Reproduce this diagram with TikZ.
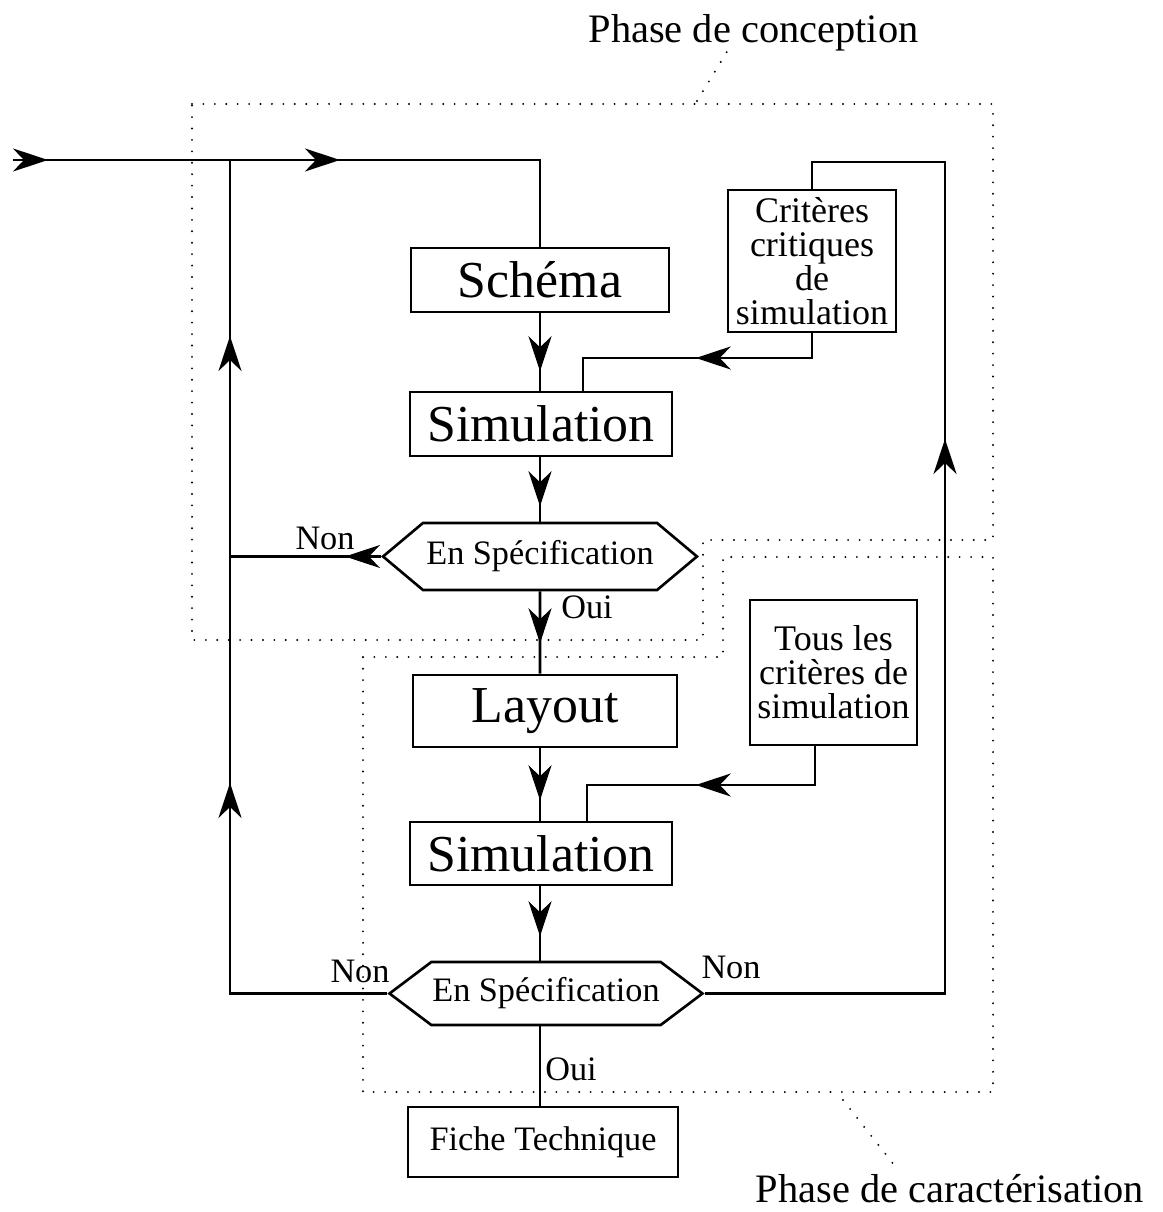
\documentclass[tikz,border=0pt]{standalone}
\usepackage{fontspec}
\setmainfont{Liberation Serif}
\usetikzlibrary{arrows.meta, shapes.symbols, decorations.markings}

\begin{document}
\begin{tikzpicture}[
  x=0.02cm, y=-0.02cm,
  line width=1.5pt,
  box/.style={rectangle, draw, inner sep=0pt,
    font=\fontsize{29.5}{33}\selectfont},
  critbox/.style={rectangle, draw, inner sep=0pt, align=center,
    font=\fontsize{20.5}{19.3}\selectfont},
  spec/.style={signal, signal to=west and east, draw, inner sep=0pt,
    font=\fontsize{19.5}{22}\selectfont},
  lbl/.style={inner sep=0pt, anchor=base, font=\fontsize{19.5}{22}\selectfont},
  phase/.style={inner sep=0pt, anchor=base, font=\fontsize{23}{26}\selectfont},
  arr/.style={postaction={decorate, decoration={markings,
    mark=at position #1 with {\arrow{Stealth[length=0.7cm, width=0.46cm, inset=0.22cm]}}}}},
  arr/.default=1.04cm,
  zone/.style={line width=1.2pt, dash pattern=on 0pt off 6.5pt, line cap=round}
]
  \useasboundingbox (0,0) rectangle (1162,1212);

  % chaine principale
  \node[box, minimum width=5.16cm, minimum height=1.28cm] (schema) at (540,280) {Schéma};
  \node[box, minimum width=5.24cm, minimum height=1.28cm] (sim1) at (541,424) {Simulation};
  \node[spec, minimum width=6.28cm, minimum height=1.34cm, signal pointer angle=80]
    (spec1) at (540,556.5) {En Spécification};
  \node[box, minimum width=5.28cm, minimum height=1.44cm] (layout) at (545,711) {Layout};
  \node[box, minimum width=5.24cm, minimum height=1.26cm] (sim2) at (541,853.5) {Simulation};
  \node[spec, minimum width=6.26cm, minimum height=1.26cm, signal pointer angle=74]
    (spec2) at (546,993.5) {En Spécification};
  \node[critbox, minimum width=5.4cm, minimum height=1.4cm,
    font=\fontsize{19.5}{22}\selectfont] (fiche) at (543,1142) {Fiche Technique};

  % criteres
  \node[critbox, minimum width=3.36cm, minimum height=2.84cm] (crit) at (812,261)
    {Critères\\critiques\\de\\simulation};
  \node[critbox, minimum width=3.34cm, minimum height=2.9cm] (tous) at (833.5,672.5)
    {Tous les\\critères de\\simulation};

  % labels
  \node[lbl] (non1) at (325,549) {Non};
  \node[lbl] (oui1) at (587,618) {Oui};
  \node[lbl] (non2) at (360,982) {Non};
  \node[lbl] (non3) at (731,978) {Non};
  \node[lbl] (oui2) at (571,1080) {Oui};
  \node[phase] (conc) at (753.5,43) {Phase de conception};
  \node[phase] (carac) at (950,1202) {Phase de caractérisation};

  % connexions
  \coordinate (in) at (13,160);
  \coordinate (split) at (230,160);
  \coordinate (c1) at (583,358);
  \coordinate (c2) at (587,785);
  \coordinate (fb) at (945,162);

  \draw[arr=0.7cm, arr=6.54cm] (in) -| (schema.north);
  \draw[arr=1.16cm] (schema) -- (schema.south |- sim1.north);
  \draw[arr=0.98cm] (sim1.south -| spec1.north) -- (spec1.north);
  \draw[arr] (spec1) -- (spec1.south |- layout.north);
  \draw[arr] (layout.south -| spec1.south) -- (spec1.south |- sim2.north);
  \draw[arr=1.0cm] (sim2.south -| spec1.south) -- (spec1.south |- spec2.north);
  \draw (spec1.south |- spec2.south) -- (spec1.south |- fiche.north);

  \draw[arr=0.72cm] (spec1.west) -- (spec1.west -| split);
  \draw[arr=7.36cm, arr=16.3cm] (spec2.west) -| (split);
  \draw[arr=15.9cm] (spec2.east) -| (fb) -| (crit.north);

  \draw[arr=2.82cm] (crit.south) |- (c1) -- (c1 |- sim1.north);
  \draw[arr=3.16cm] ([xshift=-0.37cm]tous.south) |- (c2) -- (c2 |- sim2.north);

  % phases
  \draw[zone] (192,104) -- (993,104) -- (993,540) -- (703,540) -- (703,640)
    -- (192,640) -- cycle;
  \draw[zone] (363,657) -- (723,657) -- (723,557) -- (993,557) -- (993,1092)
    -- (363,1092) -- cycle;
  \coordinate (lc1) at (697,101);
  \coordinate (lc2) at (728,50);
  \coordinate (lk1) at (843,1100);
  \coordinate (lk2) at (895,1166);
  \draw[zone] (lc1) -- (lc2);
  \draw[zone] (lk1) -- (lk2);
\end{tikzpicture}
\end{document}
